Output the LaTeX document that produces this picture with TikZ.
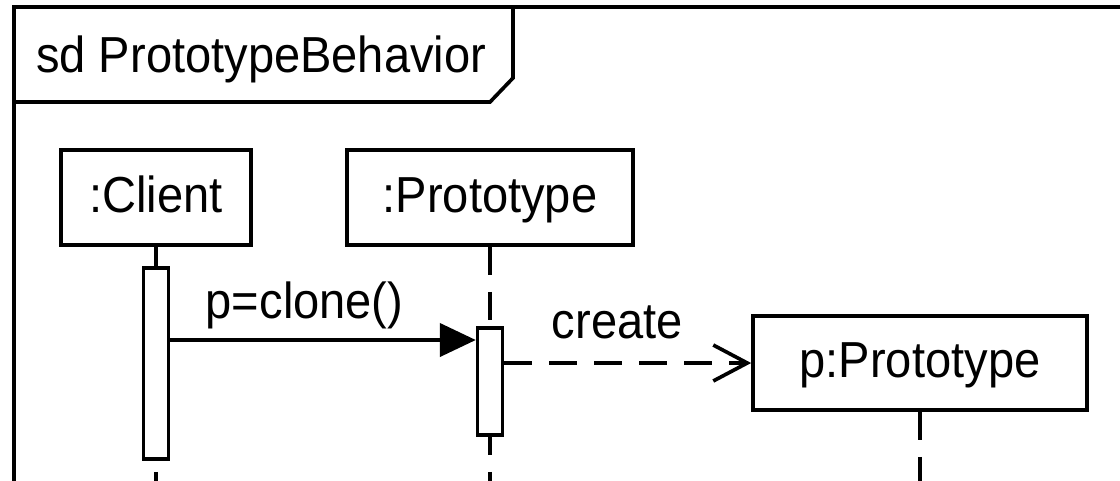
\documentclass[tikz,border=0pt]{standalone}
\usepackage{fontspec}
\setmainfont[FakeStretch=0.93]{Liberation Sans}
\usetikzlibrary{arrows.meta,positioning}
\tikzstyle{objbox} = [draw=black, fill=white, rectangle, inner sep=0,
    minimum height=2.375cm, text height=25.8pt, text depth=5pt]
\tikzstyle{actbar} = [draw=black, fill=white, rectangle, inner sep=0,
    minimum width=0.62cm]
\tikzstyle{lifeline} = [dash pattern=on 0.7cm off 0.425cm]
\tikzstyle{syncmsg} = [-{Triangle[length=0.9cm, width=0.83cm]}]
\tikzstyle{createmsg} = [dash pattern=on 0.7cm off 0.425cm,
    -{Straight Barb[length=0.85cm, width=0.9cm]}]
\tikzstyle{msglabel} = [anchor=base west, inner sep=0]

\begin{document}
\begin{tikzpicture}[line width=2.6pt, font=\fontsize{36}{42}\selectfont]
\useasboundingbox (0,0) rectangle (28,-12);
\clip (0,0) rectangle (28,-12);
% frame with its name tag
\draw (0.35,-13) -- (0.35,-0.175) -- (29,-0.175);
\draw (0.35,-2.55) -- (12.25,-2.55) -- (12.825,-1.95) -- (12.825,-0.175);
\node[msglabel] (title) at (0.86,-1.8) {sd PrototypeBehavior};

% objects
\node[objbox, minimum width=4.75cm] (client) at (3.9,-4.9375) {:Client};
\node[objbox, minimum width=7.15cm] (proto) at (12.25,-4.9375) {:Prototype};
\node[objbox, minimum width=8.35cm, minimum height=2.35cm] (newp) at (23,-9.075) {p:Prototype};

% lifelines
\draw[lifeline] (client.south) -- ++(0,-7.5);
\draw[lifeline] (proto.south) -- ++(0,-7.5);
\draw[lifeline] (newp.south) -- ++(0,-3.5);

% activations
\node[actbar, minimum height=4.775cm] (cbar) at (3.9,-9.0875) {};
\node[actbar, minimum height=2.675cm] (pbar) at (12.25,-9.5375) {};

% messages
\coordinate (m1) at (0,-8.5);
\draw[syncmsg] (cbar.east |- m1) -- (pbar.west |- m1);
\node[msglabel] (lclone) at (5.1,-7.95) {p=clone()};
\draw[createmsg] (pbar.east |- newp.west) -- (newp.west);
\node[msglabel] (lcreate) at (13.75,-8.45) {create};
\end{tikzpicture}
\end{document}
